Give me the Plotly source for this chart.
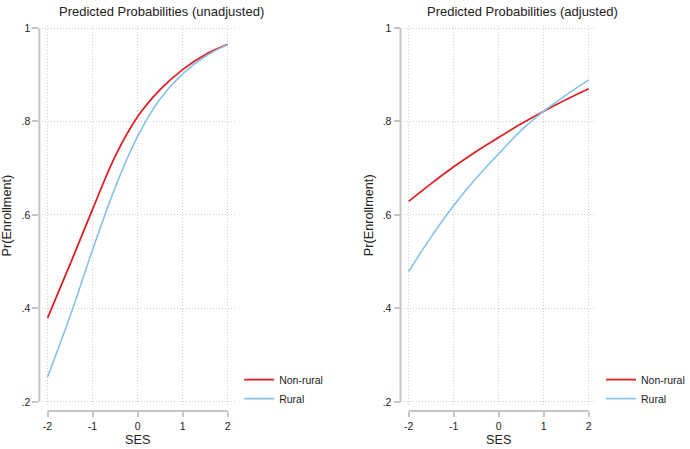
import plotly.graph_objects as go

W, H = 690, 449

# ---- data ----
ses = [-2, -1.5, -1, -0.5, 0, 0.5, 1, 1.5, 2]
unadj_nonrural = [0.379, 0.494, 0.612, 0.725, 0.810, 0.868, 0.911, 0.943, 0.965]
unadj_rural = [0.253, 0.383, 0.525, 0.658, 0.768, 0.848, 0.902, 0.939, 0.965]
adj_nonrural = [0.629, 0.667, 0.703, 0.736, 0.766, 0.795, 0.822, 0.847, 0.870]
adj_rural = [0.479, 0.553, 0.620, 0.679, 0.731, 0.781, 0.822, 0.857, 0.889]

x_ticks = [-2, -1, 0, 1, 2]
x_ticklabels = ["-2", "-1", "0", "1", "2"]
y_ticks = [0.2, 0.4, 0.6, 0.8, 1.0]
y_ticklabels = [".2", ".4", ".6", ".8", "1"]

titles = ["Predicted Probabilities (unadjusted)", "Predicted Probabilities (adjusted)"]
series_names = ["Non-rural", "Rural"]

RED = "#dd2124"
BLUE = "#86c1ea"
AXIS_GREY = "#c6c6c6"
GRID = "#cfcfcf"
FONT = "Liberation Sans, Arial, sans-serif"


def px_x(p):
    return p / W


def px_y(p):
    return 1 - p / H


fig = go.Figure()

panels = [
    (unadj_nonrural, unadj_rural, "x", "y", "legend"),
    (adj_nonrural, adj_rural, "x2", "y2", "legend2"),
]
for nr, ru, xa, ya, lg in panels:
    fig.add_trace(go.Scatter(x=ses, y=nr, mode="lines", name=series_names[0],
                             line=dict(color=RED, width=1.8, shape="spline"),
                             xaxis=xa, yaxis=ya, legend=lg))
    fig.add_trace(go.Scatter(x=ses, y=ru, mode="lines", name=series_names[1],
                             line=dict(color=BLUE, width=1.6, shape="spline"),
                             xaxis=xa, yaxis=ya, legend=lg))

x_domains = [[px_x(40), px_x(239)], [px_x(407), px_x(606)]]
y_domain = [px_y(407), px_y(22)]
x_range = [-2.181, 2.168]
y_range = [0.192, 1.005]
xaxis_pos = px_y(412.5)

common_x = dict(range=x_range, tickvals=x_ticks, ticktext=x_ticklabels,
                showline=False, zeroline=False, showgrid=True,
                gridcolor=GRID, griddash="1px,2px", gridwidth=1,
                ticks="outside", ticklen=5, tickcolor=AXIS_GREY, tickwidth=1.5,
                tickfont=dict(family=FONT, size=10.5, color="#222"),
                anchor="free", position=xaxis_pos, fixedrange=True)
common_y = dict(range=y_range, tickvals=y_ticks, ticktext=y_ticklabels,
                showline=False, zeroline=False, showgrid=True,
                gridcolor=GRID, griddash="1px,2px", gridwidth=1,
                ticks="outside", ticklen=6, tickcolor=AXIS_GREY, tickwidth=1.5,
                tickfont=dict(family=FONT, size=10.5, color="#222"),
                domain=y_domain, fixedrange=True)

fig.update_layout(
    width=W, height=H,
    margin=dict(l=0, r=0, t=0, b=0),
    paper_bgcolor="white", plot_bgcolor="white",
    font=dict(family=FONT, color="#222"),
    xaxis=dict(common_x, domain=x_domains[0]),
    yaxis=dict(common_y, anchor="x"),
    xaxis2=dict(common_x, domain=x_domains[1]),
    yaxis2=dict(common_y, anchor="x2"),
    legend=dict(x=px_x(243), y=px_y(366), xanchor="left", yanchor="top",
                bgcolor="rgba(0,0,0,0)", font=dict(family=FONT, size=10.5, color="#222"),
                tracegroupgap=0, itemclick=False),
    legend2=dict(x=px_x(611), y=px_y(366), xanchor="left", yanchor="top",
                 bgcolor="rgba(0,0,0,0)", font=dict(family=FONT, size=10.5, color="#222"),
                 tracegroupgap=0, itemclick=False),
    showlegend=True,
)

# axis spines (Stata style: span only the tick range)
shapes = []
for xa, ya in [("x", "y"), ("x2", "y2")]:
    shapes.append(dict(type="line", xref=f"{xa} domain", yref=ya,
                       x0=0, x1=0, y0=min(y_ticks), y1=max(y_ticks),
                       line=dict(color=AXIS_GREY, width=2)))
    shapes.append(dict(type="line", xref=xa, yref="paper",
                       x0=min(x_ticks), x1=max(x_ticks), y0=xaxis_pos, y1=xaxis_pos,
                       line=dict(color=AXIS_GREY, width=2)))
fig.update_layout(shapes=shapes)

annotations = []
title_centers = [164, 531]
for t, cx in zip(titles, title_centers):
    annotations.append(dict(text=t, x=px_x(cx), y=px_y(7.5), xref="paper", yref="paper",
                            xanchor="center", yanchor="middle", showarrow=False,
                            font=dict(family=FONT, size=13, color="#222")))
for xa, yx in [("x", 7.5), ("x2", 375)]:
    annotations.append(dict(text="SES", x=0, y=px_y(441.5), xref=xa, yref="paper",
                            xanchor="center", yanchor="middle", showarrow=False,
                            font=dict(family=FONT, size=12.7, color="#222")))
    annotations.append(dict(text="Pr(Enrollment)", x=px_x(yx), y=px_y(214), xref="paper",
                            yref="paper", xanchor="center", yanchor="middle",
                            textangle=-90, showarrow=False,
                            font=dict(family=FONT, size=12.7, color="#222")))
fig.update_layout(annotations=annotations)

fig.write_html(
    "out.html",
    config={"displayModeBar": False, "staticPlot": False},
    post_script="document.body.style.margin='0';document.body.style.overflow='hidden';",
)
